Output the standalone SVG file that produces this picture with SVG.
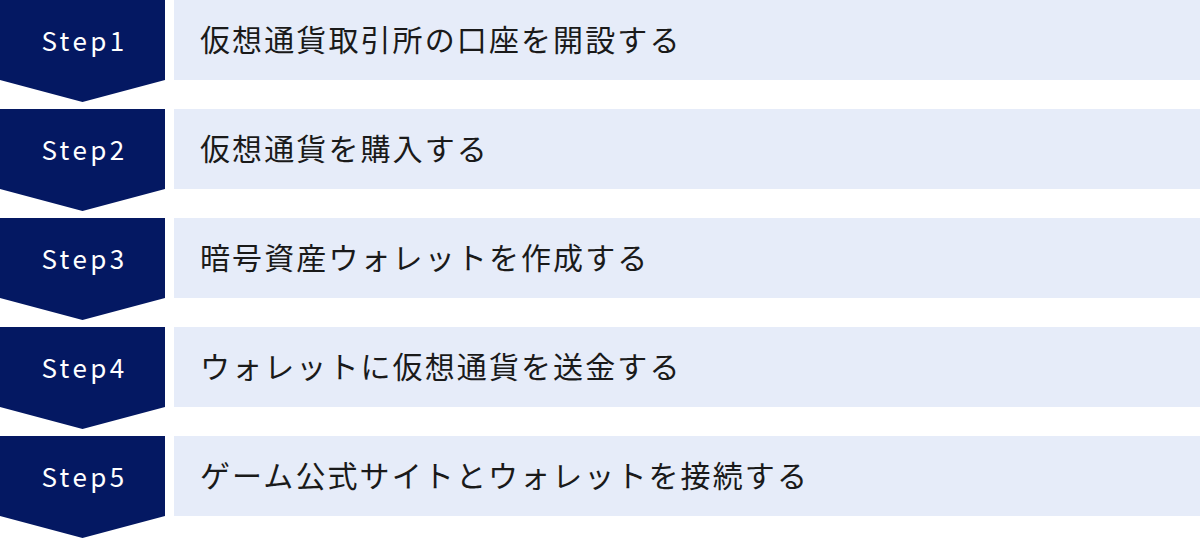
<svg xmlns="http://www.w3.org/2000/svg" width="1200" height="538" viewBox="0 0 1200 538">
<defs>
<style>
.badge{fill:#041862}
.bar{fill:#E6ECF9}
.step{font-family:"Noto Sans CJK JP","Noto Sans",sans-serif;font-size:26px;fill:#ffffff;letter-spacing:3.4px;text-anchor:middle}
.label{font-family:"Noto Sans CJK JP","Noto Sans",sans-serif;font-size:30px;fill:#1a1a1a;letter-spacing:2.1px}
</style>
<path id="chev" d="M0 0H165V80L82.5 102L0 80Z"/>
</defs>
<rect width="1200" height="538" fill="#ffffff"/>
<g id="connectors"></g>
<g id="step1">
<use href="#chev" class="badge"/>
<rect x="174" y="0" width="1026" height="80" class="bar"/>
<text x="84.5" y="50.5" class="step">Step1</text>
<text x="200" y="51" class="label">仮想通貨取引所の口座を開設する</text>
</g>
<g id="step2" transform="translate(0,109)">
<use href="#chev" class="badge"/>
<rect x="174" y="0" width="1026" height="80" class="bar"/>
<text x="84.5" y="50.5" class="step">Step2</text>
<text x="200" y="51" class="label">仮想通貨を購入する</text>
</g>
<g id="step3" transform="translate(0,218)">
<use href="#chev" class="badge"/>
<rect x="174" y="0" width="1026" height="80" class="bar"/>
<text x="84.5" y="50.5" class="step">Step3</text>
<text x="200" y="51" class="label">暗号資産ウォレットを作成する</text>
</g>
<g id="step4" transform="translate(0,327)">
<use href="#chev" class="badge"/>
<rect x="174" y="0" width="1026" height="80" class="bar"/>
<text x="84.5" y="50.5" class="step">Step4</text>
<text x="200" y="51" class="label">ウォレットに仮想通貨を送金する</text>
</g>
<g id="step5" transform="translate(0,436)">
<use href="#chev" class="badge"/>
<rect x="174" y="0" width="1026" height="80" class="bar"/>
<text x="84.5" y="50.5" class="step">Step5</text>
<text x="200" y="51" class="label">ゲーム公式サイトとウォレットを接続する</text>
</g>
</svg>
